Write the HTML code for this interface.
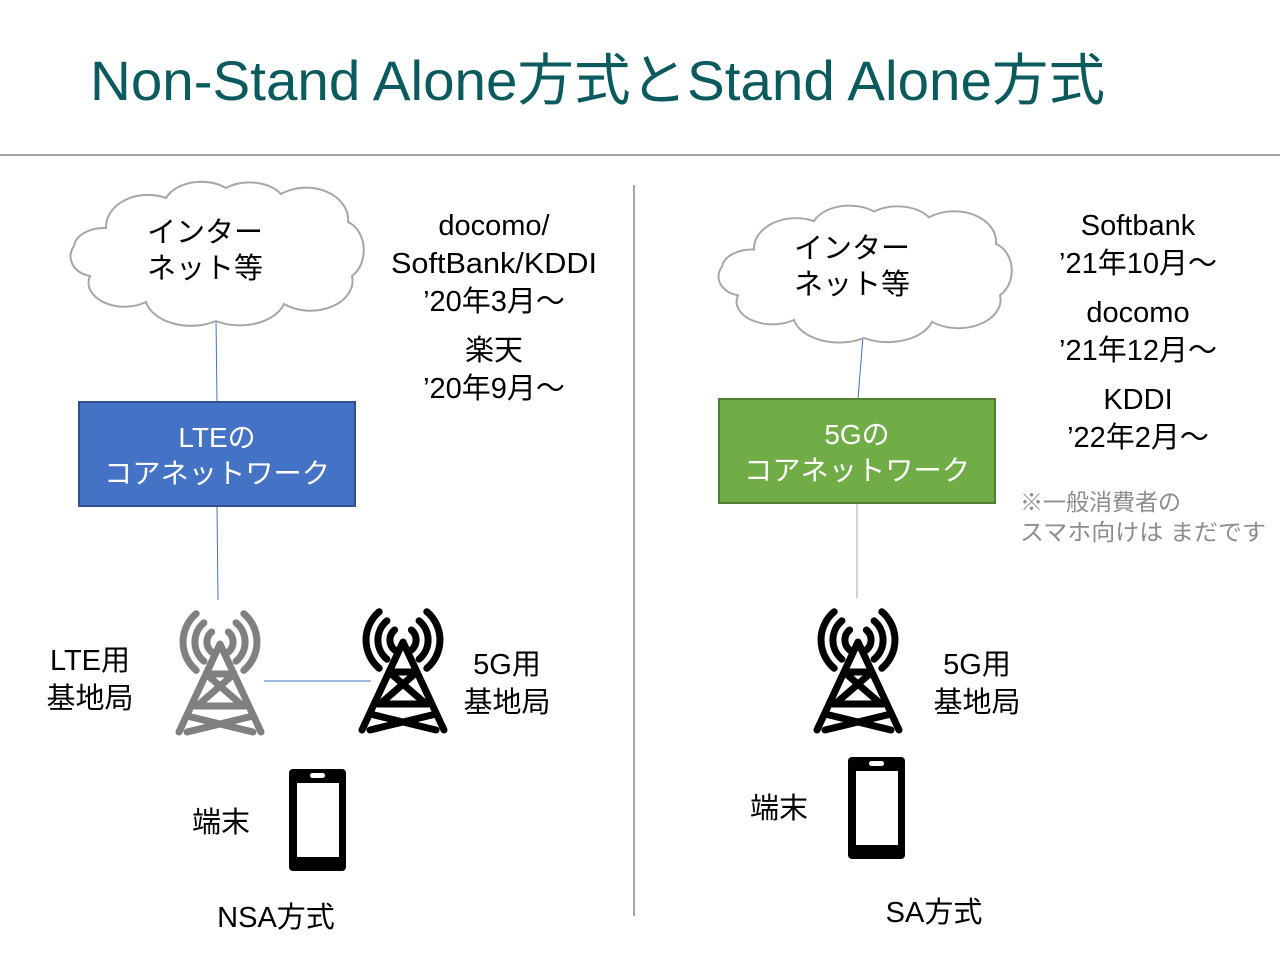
<!DOCTYPE html>
<html><head><meta charset="utf-8"><style>
html,body{margin:0;padding:0;background:#fff;}
svg text{font-family:"Liberation Sans","Noto Sans CJK JP",sans-serif;}
</style></head><body>
<svg width="1280" height="960" viewBox="0 0 1280 960" xmlns="http://www.w3.org/2000/svg">
<defs>
<path id="cloud" d="M40 48 A42 32 0 0 1 100 18 A38 26 0 0 1 160 8 A38 26 0 0 1 215 14 A42 32 0 0 1 282 42 A24 30 0 0 1 286 96 A42 30 0 0 1 218 124 A46 30 0 0 1 150 141 A46 30 0 0 1 80 122 A36 24 0 0 1 24 96 A24 20 0 0 1 8 66 A30 20 0 0 1 40 48 Z" fill="#fff" stroke="#a6a6a6" stroke-width="2"/>
<g id="tower" fill="none" stroke-width="7" stroke-linecap="round">
<path d="M36.6 16 A13 13 0 0 0 36.6 36 M53.4 16 A13 13 0 0 1 53.4 36"/>
<path d="M28.9 6.8 A25 25 0 0 0 28.9 45.2 M61.1 6.8 A25 25 0 0 1 61.1 45.2"/>
<path d="M21.2 -2.3 A37 37 0 0 0 21.2 54.3 M68.8 -2.3 A37 37 0 0 1 68.8 54.3"/>
<path d="M45 28 L4 116 M45 28 L86 116 M31 58 L68 90 M59 58 L22 90 M12 100 L78 116 M78 100 L12 116" stroke-linejoin="round"/>
<path d="M33 58 L57 58 M20 90 L70 90" />
</g>
<g id="phone">
<rect x="0" y="0" width="57" height="102" rx="4" fill="#000"/>
<rect x="8" y="14" width="42" height="74" fill="#fff"/>
<rect x="21" y="4" width="15" height="5" rx="2.5" fill="#fff"/>
</g>
</defs>
<text x="90" y="100" font-size="56" fill="#0b5a5e" textLength="1015" lengthAdjust="spacingAndGlyphs">Non-Stand Alone方式とStand Alone方式</text>
<line x1="0" y1="155" x2="1280" y2="155" stroke="#a6a6a6" stroke-width="2"/>
<line x1="634" y1="185" x2="634" y2="916" stroke="#a6a6a6" stroke-width="2"/>

<!-- left -->
<line x1="216" y1="320" x2="217" y2="402" stroke="#4472c4" stroke-width="1"/>
<line x1="217" y1="506" x2="218" y2="600" stroke="#4472c4" stroke-width="1"/>
<use href="#cloud" transform="translate(66,180)"/>
<text x="205" y="242" font-size="29" text-anchor="middle">インター</text>
<text x="205" y="278" font-size="29" text-anchor="middle">ネット等</text>
<rect x="79" y="402" width="276" height="104" fill="#4472c4" stroke="#2f528f" stroke-width="2"/>
<text x="217" y="447" font-size="28" fill="#fff" text-anchor="middle">LTEの</text>
<text x="217" y="483" font-size="28" fill="#fff" text-anchor="middle" textLength="226" lengthAdjust="spacingAndGlyphs">コアネットワーク</text>
<text x="494" y="235" font-size="29" text-anchor="middle">docomo/</text>
<text x="494" y="273" font-size="29" text-anchor="middle" textLength="206" lengthAdjust="spacingAndGlyphs">SoftBank/KDDI</text>
<text x="494" y="311" font-size="29" text-anchor="middle">’20年3月～</text>
<text x="494" y="360" font-size="29" text-anchor="middle">楽天</text>
<text x="494" y="398" font-size="29" text-anchor="middle">’20年9月～</text>
<use href="#tower" stroke="#808080" transform="translate(175,616)"/>
<use href="#tower" stroke="#000" transform="translate(358,614)"/>
<line x1="264" y1="681" x2="371" y2="681" stroke="#4472c4" stroke-width="1"/>
<text x="90" y="670" font-size="29" text-anchor="middle">LTE用</text>
<text x="90" y="708" font-size="29" text-anchor="middle">基地局</text>
<text x="507" y="674" font-size="29" text-anchor="middle">5G用</text>
<text x="507" y="712" font-size="29" text-anchor="middle">基地局</text>
<use href="#phone" transform="translate(289,769)"/>
<text x="221" y="832" font-size="29" text-anchor="middle">端末</text>
<text x="276" y="927" font-size="29" text-anchor="middle">NSA方式</text>

<!-- right -->
<line x1="863" y1="336" x2="858" y2="399" stroke="#4472c4" stroke-width="1"/>
<line x1="857" y1="503" x2="857" y2="598" stroke="#a6a6a6" stroke-width="1"/>
<use href="#cloud" transform="translate(714,204) scale(1.0,0.95)"/>
<text x="852" y="258" font-size="29" text-anchor="middle">インター</text>
<text x="852" y="294" font-size="29" text-anchor="middle">ネット等</text>
<rect x="719" y="399" width="276" height="104" fill="#70ad47" stroke="#507e32" stroke-width="2"/>
<text x="857" y="444" font-size="28" fill="#fff" text-anchor="middle">5Gの</text>
<text x="857" y="480" font-size="28" fill="#fff" text-anchor="middle" textLength="226" lengthAdjust="spacingAndGlyphs">コアネットワーク</text>
<text x="1138" y="235" font-size="29" text-anchor="middle">Softbank</text>
<text x="1138" y="273" font-size="29" text-anchor="middle">’21年10月～</text>
<text x="1138" y="322" font-size="29" text-anchor="middle">docomo</text>
<text x="1138" y="360" font-size="29" text-anchor="middle">’21年12月～</text>
<text x="1138" y="409" font-size="29" text-anchor="middle">KDDI</text>
<text x="1138" y="447" font-size="29" text-anchor="middle">’22年2月～</text>
<text x="1020" y="510" font-size="23" fill="#8c8c8c">※一般消費者の</text>
<text x="1020" y="540" font-size="23" fill="#8c8c8c" textLength="246" lengthAdjust="spacingAndGlyphs">スマホ向けは まだです</text>
<use href="#tower" stroke="#000" transform="translate(813,614)"/>
<text x="977" y="674" font-size="29" text-anchor="middle">5G用</text>
<text x="977" y="712" font-size="29" text-anchor="middle">基地局</text>
<use href="#phone" transform="translate(848,757)"/>
<text x="779" y="818" font-size="29" text-anchor="middle">端末</text>
<text x="934" y="922" font-size="29" text-anchor="middle">SA方式</text>
</svg>
</body></html>
